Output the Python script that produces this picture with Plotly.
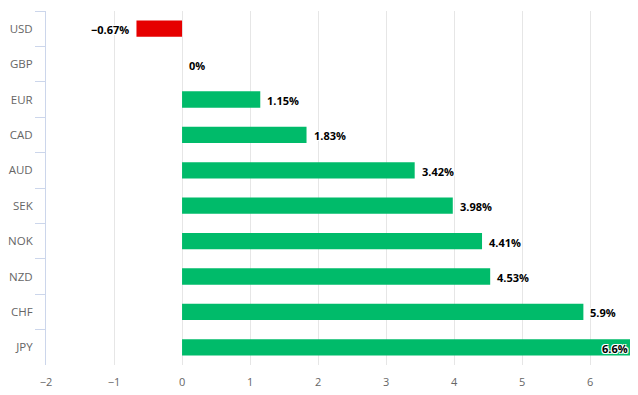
import plotly.graph_objects as go

currencies = ["USD", "GBP", "EUR", "CAD", "AUD", "SEK", "NOK", "NZD", "CHF", "JPY"]
changes = [-0.67, 0, 1.15, 1.83, 3.42, 3.98, 4.41, 4.53, 5.9, 6.6]
x_ticks = [-2, -1, 0, 1, 2, 3, 4, 5, 6]
x_max = 6.6

colors = ["#e60000" if v < 0 else "#00bb6a" for v in changes]
labels = [(f"{v:g}%").replace("-", "\u2212") for v in changes]

FONT = "Open Sans, Verdana, sans-serif"

fig = go.Figure(go.Bar(
    y=currencies,
    x=changes,
    orientation="h",
    marker=dict(color=colors, line=dict(width=0)),
    width=0.46,
    hoverinfo="skip",
))

outline = "-1px -1px 0 #fff, 1px -1px 0 #fff, -1px 1px 0 #fff, 1px 1px 0 #fff"
for cur, v, lab in zip(currencies, changes, labels):
    if v >= x_max:
        anchor, shift = "right", -1
    elif v < 0:
        anchor, shift = "right", -5
    else:
        anchor, shift = "left", 5
    fig.add_annotation(
        x=v, y=cur, xref="x", yref="y", text=lab, showarrow=False,
        xanchor=anchor, xshift=shift, yshift=-1,
        font=dict(family=FONT, size=11, color="#000000", weight="bold", shadow=outline),
    )

# page body has an 8px default margin; size the figure to fit the 638x395 window
fig.update_layout(
    width=630, height=387,
    margin=dict(l=38, r=7, t=3, b=30),
    plot_bgcolor="white", paper_bgcolor="white",
    showlegend=False,
    font=dict(family=FONT, size=11, color="#666666"),
    xaxis=dict(
        range=[-2, x_max],
        tickvals=x_ticks,
        showgrid=True, gridcolor="#e6e6e6", gridwidth=1,
        zeroline=False, showline=False,
        ticks="", tickfont=dict(size=11, color="#666666"),
        ticklabelstandoff=9,
        automargin=False,
        fixedrange=True,
    ),
    yaxis=dict(
        categoryorder="array", categoryarray=currencies,
        autorange="reversed",
        showgrid=False, zeroline=False,
        showline=True, linecolor="#ccd6eb", linewidth=1,
        ticks="outside", ticklen=10, tickcolor="#ccd6eb", tickwidth=1,
        tickson="boundaries",
        tickfont=dict(size=11.5, color="#666666"),
        ticklabelstandoff=10,
        automargin=False,
        fixedrange=True,
    ),
)

fig.write_html("out.html")
